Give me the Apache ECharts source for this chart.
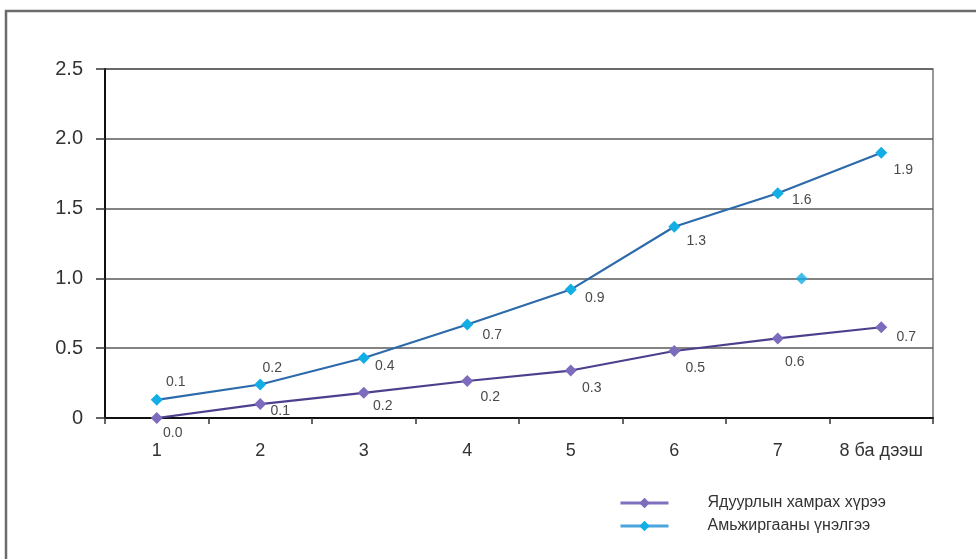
<!DOCTYPE html>
<html>
<head>
<meta charset="utf-8">
<script src="https://cdn.jsdelivr.net/npm/echarts@6/dist/echarts.min.js"></script>
<style>
html,body{margin:0;padding:0;background:#fff;}
#chart{width:976px;height:559px;}
</style>
</head>
<body>
<div id="chart"></div>
<script>
// ---- data ----
const categories = ['1', '2', '3', '4', '5', '6', '7', '8 ба дээш'];
const seriesNames = ['Ядуурлын хамрах хүрээ', 'Амьжиргааны үнэлгээ'];
const povertyValues = [0.0, 0.10, 0.18, 0.265, 0.34, 0.48, 0.57, 0.65];
const povertyLabels = ['0.0', '0.1', '0.2', '0.2', '0.3', '0.5', '0.6', '0.7'];
const livingValues = [0.13, 0.24, 0.43, 0.67, 0.92, 1.37, 1.61, 1.90];
const livingLabels = ['0.1', '0.2', '0.4', '0.7', '0.9', '1.3', '1.6', '1.9'];
const strayPoint = [[6.73, 1.0]];
const yTickLabels = ['0', '0.5', '1.0', '1.5', '2.0', '2.5'];

// ---- styling (label offsets relative to markers) ----
const povertyLabelOffsets = [[16,15],[20,7],[19,13],[23,16],[21,18],[21,17],[17,24],[25,10]];
const livingLabelOffsets = [[19,-18],[12,-16],[21,8],[25,11],[24,9],[22,14],[24,7],[22,17]];

const purpleLine = '#4e3f8e', purpleMark = '#7d6bbd';
const blueLine = '#2c6aab', blueMark = '#14aee6';
const FONT = 'Liberation Sans, Arial, sans-serif';
const labelStyle = {color:'#4a4a4a', fontSize:14, fontFamily: FONT};

function buildData(values, labels, offsets) {
  return values.map((v, i) => ({
    value: v,
    label: {show:true, position:'inside', offset: offsets[i], formatter: labels[i], ...labelStyle}
  }));
}

const chart = echarts.init(document.getElementById('chart'));
chart.setOption({
  animation: false,
  backgroundColor: '#fff',
  graphic: [{
    type: 'rect', shape: {x: 6, y: 11, width: 1000, height: 600},
    style: {fill: 'none', stroke: '#6b6b6b', lineWidth: 2.5}, silent: true, z: 0
  }],
  grid: {left: 105, right: 43, top: 69, bottom: 141, show: true, borderColor: '#777', borderWidth: 1.5, backgroundColor: 'transparent'},
  legend: {
    orient: 'vertical', left: 614, top: 490, itemWidth: 48, itemHeight: 13, itemGap: 7,
    data: [
      {name: seriesNames[0], lineStyle: {color: '#7e70bf', width: 3}, itemStyle: {color: '#7d6bbd'}},
      {name: seriesNames[1], lineStyle: {color: '#4aa6dc', width: 3}, itemStyle: {color: '#14aee6'}}
    ],
    textStyle: {color: '#333', fontSize: 16, fontFamily: FONT, padding: [0,0,0,34]}
  },
  xAxis: [{
    type: 'category', data: categories, boundaryGap: true,
    axisLine: {lineStyle: {color: '#111', width: 2}},
    axisTick: {show: true, length: 6, interval: 0, lineStyle: {color: '#333', width: 1.5}},
    axisLabel: {color: '#333', fontSize: 18, margin: 24, interval: 0, hideOverlap: false, fontFamily: FONT}
  }, {
    type: 'value', min: 0, max: 8, show: false
  }],
  yAxis: {
    type: 'value', min: 0, max: 2.5, interval: 0.5,
    axisLine: {show: true, lineStyle: {color: '#111', width: 2}},
    axisTick: {show: true, length: 9, lineStyle: {color: '#333', width: 1.5}},
    axisLabel: {color: '#333', fontSize: 20, margin: 22, fontFamily: FONT,
      formatter: (v) => yTickLabels[Math.round(v / 0.5)]},
    splitLine: {show: true, lineStyle: {color: '#5a5a5a', width: 1.5}}
  },
  series: [{
    name: seriesNames[0], type: 'line', data: buildData(povertyValues, povertyLabels, povertyLabelOffsets),
    symbol: 'diamond', symbolSize: 12,
    lineStyle: {color: purpleLine, width: 2.2},
    itemStyle: {color: purpleMark}, z: 3
  }, {
    name: seriesNames[1], type: 'line', data: buildData(livingValues, livingLabels, livingLabelOffsets),
    symbol: 'diamond', symbolSize: 12,
    lineStyle: {color: blueLine, width: 2.2},
    itemStyle: {color: blueMark}, z: 4
  }, {
    name: 'stray', type: 'scatter', xAxisIndex: 1, data: strayPoint,
    symbol: 'diamond', symbolSize: 12, itemStyle: {color: blueMark}, z: 4
  }]
});
</script>
</body>
</html>
